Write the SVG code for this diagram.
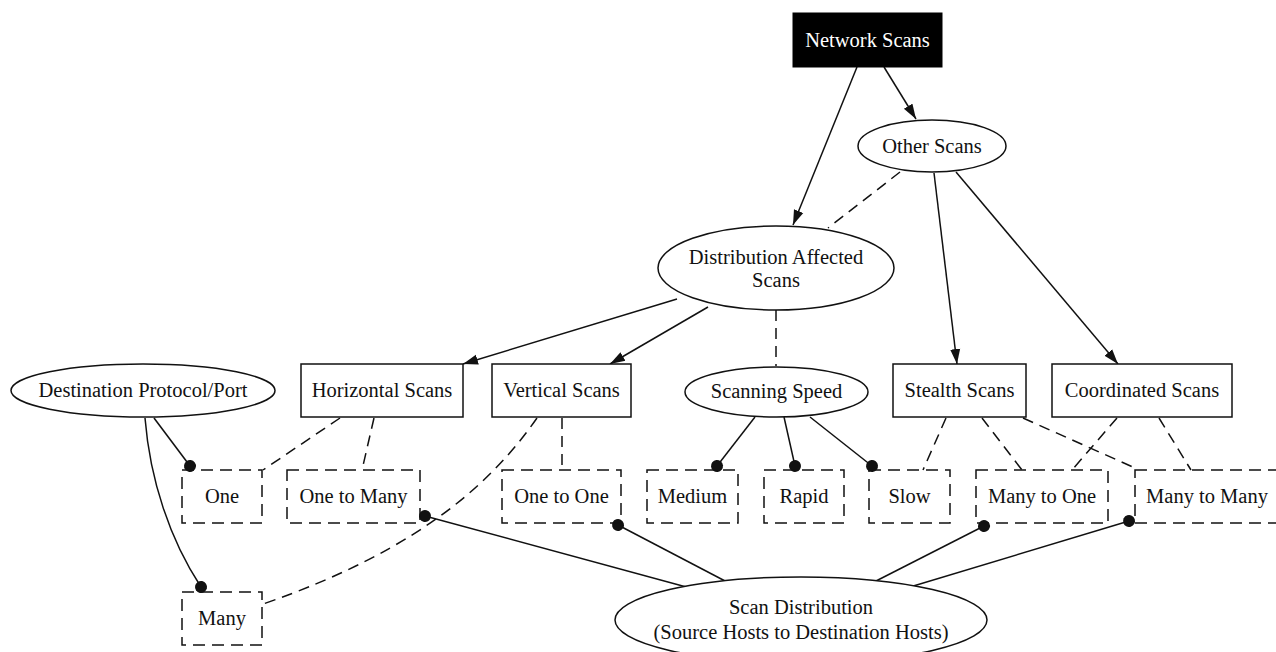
<svg xmlns="http://www.w3.org/2000/svg" width="1276" height="652" viewBox="0 0 1276 652">
  <style>
    text { font-family: "Liberation Serif", "Times New Roman", serif; font-size: 20.5px; fill: #111; text-anchor: middle; }
    .shape { fill: #fff; stroke: #111; stroke-width: 1.5; }
    .dash { fill: none; stroke: #111; stroke-width: 1.5; stroke-dasharray: 12 7; }
    .edge { fill: none; stroke: #111; stroke-width: 1.5; }
    .edash { fill: none; stroke: #111; stroke-width: 1.5; stroke-dasharray: 11 7; }
    .arrow { marker-end: url(#arrowhead); }
    .dotted { marker-end: url(#dothead); }
  </style>
  <defs>
    <marker id="arrowhead" markerUnits="userSpaceOnUse" markerWidth="16" markerHeight="12" refX="15" refY="6" orient="auto">
      <path d="M0,1 L15,6 L0,11 Z" fill="#111"/>
    </marker>
    <marker id="dothead" markerUnits="userSpaceOnUse" markerWidth="14" markerHeight="14" refX="7" refY="7" orient="auto">
      <circle cx="7" cy="7" r="6" fill="#111"/>
    </marker>
  </defs>
  <rect width="1276" height="652" fill="#fff"/>

  <g id="connectors">
    <!-- hierarchy arrows -->
    <path class="edge arrow" d="M857,67 L793,225"/>
    <path class="edge arrow" d="M884,67 L916,119"/>
    <path class="edash" d="M900,172 L828,228"/>
    <path class="edge arrow" d="M934,173 L957,364"/>
    <path class="edge arrow" d="M956,172 L1118,364"/>
    <path class="edge arrow" d="M677,299 L463,364"/>
    <path class="edge arrow" d="M708,307 L610,364"/>
    <path class="edash" d="M776,310 L776,366"/>
    <!-- scan types to distribution classes -->
    <path class="edash" d="M340,418 L263,470"/>
    <path class="edash" d="M374,418 L362,470"/>
    <path class="edash" d="M537,418 C495,478 425,548 263,604"/>
    <path class="edash" d="M562,418 L562,470"/>
    <path class="edash" d="M946,418 L923,470"/>
    <path class="edash" d="M982,418 L1022,470"/>
    <path class="edash" d="M1023,418 L1135,468"/>
    <path class="edash" d="M1117,418 L1072,470"/>
    <path class="edash" d="M1159,418 L1191,470"/>
    <!-- dot-ended links -->
    <path class="edge dotted" d="M154,418 L190,466"/>
    <path class="edge dotted" d="M145,418 C150,480 170,540 201,587"/>
    <path class="edge dotted" d="M755,417 L717,466"/>
    <path class="edge dotted" d="M784,417 L795,466"/>
    <path class="edge dotted" d="M810,417 L872,466"/>
    <path class="edge dotted" d="M690,588 L425,516"/>
    <path class="edge dotted" d="M727,582 L618,525"/>
    <path class="edge dotted" d="M876,581 L984,526"/>
    <path class="edge dotted" d="M910,587 L1129,521"/>
  </g>

  <g id="network-scans">
    <rect x="793" y="13" width="149" height="54" fill="#000" stroke="#000"/>
    <text x="867.5" y="47" style="fill:#fff">Network Scans</text>
  </g>
  <g id="other-scans">
    <ellipse class="shape" cx="932" cy="146" rx="74" ry="26"/>
    <text x="932" y="153">Other Scans</text>
  </g>
  <g id="distribution-affected-scans">
    <ellipse class="shape" cx="776" cy="268" rx="118" ry="42"/>
    <text x="776" y="264">Distribution Affected</text>
    <text x="776" y="287">Scans</text>
  </g>
  <g id="destination-protocol-port">
    <ellipse class="shape" cx="143" cy="390.5" rx="132" ry="26.5"/>
    <text x="143" y="397">Destination Protocol/Port</text>
  </g>
  <g id="horizontal-scans">
    <rect class="shape" x="301" y="364" width="162" height="53"/>
    <text x="382" y="397">Horizontal Scans</text>
  </g>
  <g id="vertical-scans">
    <rect class="shape" x="492" y="364" width="139" height="53"/>
    <text x="561.5" y="397">Vertical Scans</text>
  </g>
  <g id="scanning-speed">
    <ellipse class="shape" cx="776.5" cy="392" rx="91.5" ry="25"/>
    <text x="776.5" y="398">Scanning Speed</text>
  </g>
  <g id="stealth-scans">
    <rect class="shape" x="893" y="364" width="133" height="53"/>
    <text x="959.5" y="397">Stealth Scans</text>
  </g>
  <g id="coordinated-scans">
    <rect class="shape" x="1052" y="364" width="180" height="53"/>
    <text x="1142" y="397">Coordinated Scans</text>
  </g>

  <g id="one">
    <rect class="dash" x="182" y="470" width="80" height="53"/>
    <text x="222" y="503">One</text>
  </g>
  <g id="one-to-many">
    <rect class="dash" x="287" y="470" width="133" height="53"/>
    <text x="353.5" y="503">One to Many</text>
  </g>
  <g id="one-to-one">
    <rect class="dash" x="502" y="470" width="119" height="53"/>
    <text x="561.5" y="503">One to One</text>
  </g>
  <g id="medium">
    <rect class="dash" x="647" y="470" width="91" height="53"/>
    <text x="692.5" y="503">Medium</text>
  </g>
  <g id="rapid">
    <rect class="dash" x="764" y="470" width="80" height="53"/>
    <text x="804" y="503">Rapid</text>
  </g>
  <g id="slow">
    <rect class="dash" x="869" y="470" width="81" height="53"/>
    <text x="909.5" y="503">Slow</text>
  </g>
  <g id="many-to-one">
    <rect class="dash" x="976" y="470" width="132" height="53"/>
    <text x="1042" y="503">Many to One</text>
  </g>
  <g id="many-to-many">
    <rect class="dash" x="1135" y="470" width="160" height="53"/>
    <text x="1207" y="503">Many to Many</text>
  </g>
  <g id="many">
    <rect class="dash" x="182" y="592" width="80" height="53"/>
    <text x="222" y="625">Many</text>
  </g>

  <g id="scan-distribution">
    <ellipse class="shape" cx="801" cy="620" rx="186" ry="43"/>
    <text x="801" y="614">Scan Distribution</text>
    <text x="801" y="639">(Source Hosts to Destination Hosts)</text>
  </g>
</svg>
